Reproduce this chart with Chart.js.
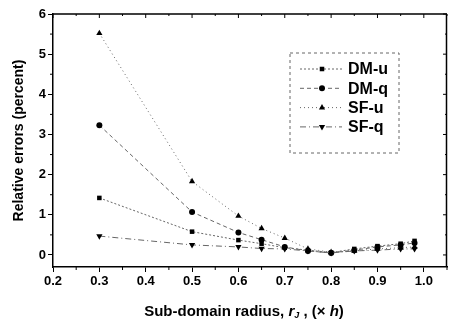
<!DOCTYPE html>
<html>
<head>
<meta charset="utf-8">
<script src="https://cdn.jsdelivr.net/npm/chart.js@4.4.0/dist/chart.umd.min.js"></script>
<style>
  html, body { margin: 0; padding: 0; background: #fff; }
  #wrap { width: 451px; height: 323px; }
</style>
</head>
<body>
<div id="wrap"><canvas id="myChartErrors"></canvas></div>
<script>
// sub-domain radius (x h)
var radius = [0.3, 0.5, 0.6, 0.65, 0.7, 0.75, 0.8, 0.85, 0.9, 0.95, 0.98];

var dm_u = [1.42, 0.58, 0.37, 0.28, 0.18, 0.12, 0.06, 0.15, 0.22, 0.28, 0.35];
var dm_q = [3.23, 1.07, 0.56, 0.38, 0.20, 0.10, 0.05, 0.12, 0.20, 0.25, 0.30];
var sf_u = [5.52, 1.83, 0.97, 0.66, 0.42, 0.15, 0.07, 0.10, 0.15, 0.18, 0.20];
var sf_q = [0.47, 0.25, 0.20, 0.16, 0.15, 0.10, 0.05, 0.10, 0.12, 0.15, 0.15];

var xTicks = [0.2, 0.3, 0.4, 0.5, 0.6, 0.7, 0.8, 0.9, 1.0];
var yTicks = [0, 1, 2, 3, 4, 5, 6];

var FONT = '"Liberation Sans", Arial, sans-serif';

function pts(ys) {
    return radius.map(function (x, i) { return { x: x, y: ys[i] }; });
}

function series(label, ys, style, rot, dash, r) {
    return {
        label: label,
        data: pts(ys),
        borderColor: '#666',
        backgroundColor: '#000',
        pointBorderColor: '#000',
        pointBackgroundColor: '#000',
        borderWidth: 1,
        borderDash: dash,
        pointStyle: style,
        pointRotation: rot,
        pointRadius: r,
        pointBorderWidth: 0,
        tension: 0
    };
}

// box on top / right, mirrored + minor ticks, x title with italics, legend inside plot
var frame = {
    id: 'frame',
    afterDraw: function (chart) {
        var c = chart.ctx, a = chart.chartArea;
        var xs = chart.scales.x, ys = chart.scales.y;
        c.save();
        c.strokeStyle = '#000';
        c.lineWidth = 1.5;
        c.beginPath();
        c.moveTo(a.left, a.top); c.lineTo(a.right, a.top);
        c.moveTo(a.right - 0.5, a.top); c.lineTo(a.right - 0.5, a.bottom);
        c.stroke();

        c.lineWidth = 1;
        c.beginPath();
        xTicks.forEach(function (v) {
            var p = xs.getPixelForValue(v);
            c.moveTo(p, a.top); c.lineTo(p, a.top + 4);
            var m = xs.getPixelForValue(v + 0.05);
            c.moveTo(m, a.bottom); c.lineTo(m, a.bottom + 3);
            c.moveTo(m, a.top); c.lineTo(m, a.top + 2);
        });
        yTicks.forEach(function (v) {
            var p = ys.getPixelForValue(v);
            c.moveTo(a.right, p); c.lineTo(a.right - 4, p);
            if (v < 6) {
                var m = ys.getPixelForValue(v + 0.5);
                c.moveTo(a.left, m); c.lineTo(a.left - 3, m);
                c.moveTo(a.right, m); c.lineTo(a.right - 2, m);
            }
        });
        c.stroke();

        // x axis title
        var parts = [
            ['Sub-domain radius, ', 'bold 15px ' + FONT, 0],
            ['r', 'italic bold 15px ' + FONT, 0],
            ['J', 'italic bold 9px ' + FONT, 4],
            [' , (\u00d7 ', 'bold 15px ' + FONT, 0],
            ['h', 'italic bold 15px ' + FONT, 0],
            [')', 'bold 15px ' + FONT, 0]
        ];
        var total = 0;
        parts.forEach(function (p) { c.font = p[1]; total += c.measureText(p[0]).width; });
        var x0 = 244 - total / 2, ty = 312;
        c.fillStyle = '#000';
        c.textBaseline = 'middle';
        c.textAlign = 'left';
        parts.forEach(function (p) {
            c.font = p[1];
            c.fillText(p[0], x0, ty + p[2]);
            x0 += c.measureText(p[0]).width;
        });

        // legend
        var lx = 290, ly = 53, lw = 109, lh = 100;
        c.strokeStyle = '#666';
        c.lineWidth = 1;
        c.setLineDash([3, 3]);
        c.strokeRect(lx, ly, lw, lh);
        chart.data.datasets.forEach(function (ds, i) {
            var yy = 69 + i * 19.3;
            c.strokeStyle = '#666';
            c.setLineDash(ds.borderDash);
            c.beginPath();
            c.moveTo(300, yy); c.lineTo(342, yy);
            c.stroke();
            c.setLineDash([]);
            Chart.helpers.drawPoint(c, {
                pointStyle: ds.pointStyle, rotation: ds.pointRotation,
                radius: ds.pointRadius, borderWidth: 0
            }, 322, yy);
            c.fillStyle = '#000';
            c.font = 'bold 16px ' + FONT;
            c.fillText(ds.label, 348, yy + 1);
        });
        c.restore();
    }
};

const ctx = document.getElementById('myChartErrors');

new Chart(ctx, {
    type: 'line',
    data: {
        datasets: [
            series('DM-u', dm_u, 'rect', 0, [2, 2], 3.2),
            series('DM-q', dm_q, 'circle', 0, [4, 3], 3),
            series('SF-u', sf_u, 'triangle', 0, [1, 3], 3.6),
            series('SF-q', sf_q, 'triangle', 180, [6, 3, 1, 3], 3.6)
        ]
    },
    plugins: [frame],
    options: {
        responsive: true,
        maintainAspectRatio: false,
        animation: false,
        layout: { padding: { top: 14, right: 0, left: 0, bottom: 0 } },
        plugins: {
            legend: { display: false },
            tooltip: { enabled: false }
        },
        scales: {
            x: {
                type: 'linear',
                min: 0.2,
                max: 1.05,
                afterBuildTicks: function (s) { s.ticks = xTicks.map(function (v) { return { value: v }; }); },
                afterFit: function (s) { s.height = 56; },
                ticks: {
                    color: '#000',
                    font: { family: FONT, size: 13, weight: 'bold' },
                    padding: 2,
                    maxRotation: 0,
                    callback: function (v) { return Number(v).toFixed(1); }
                },
                grid: { drawOnChartArea: false, drawTicks: true, tickLength: 5, color: '#000' },
                border: { display: true, color: '#000', width: 1.5 },
                title: { display: false }
            },
            y: {
                type: 'linear',
                min: -0.3,
                max: 6,
                afterBuildTicks: function (s) { s.ticks = yTicks.map(function (v) { return { value: v }; }); },
                afterFit: function (s) { s.width = 53; },
                ticks: {
                    color: '#000',
                    font: { family: FONT, size: 13, weight: 'bold' },
                    padding: 2
                },
                grid: { drawOnChartArea: false, drawTicks: true, tickLength: 5, color: '#000' },
                border: { display: true, color: '#000', width: 1.5 },
                title: {
                    display: true,
                    text: 'Relative errors (percent)',
                    color: '#000',
                    font: { family: FONT, size: 14, weight: 'bold' },
                    padding: { top: 11, bottom: 0 }
                }
            }
        }
    }
});
</script>
</body>
</html>
